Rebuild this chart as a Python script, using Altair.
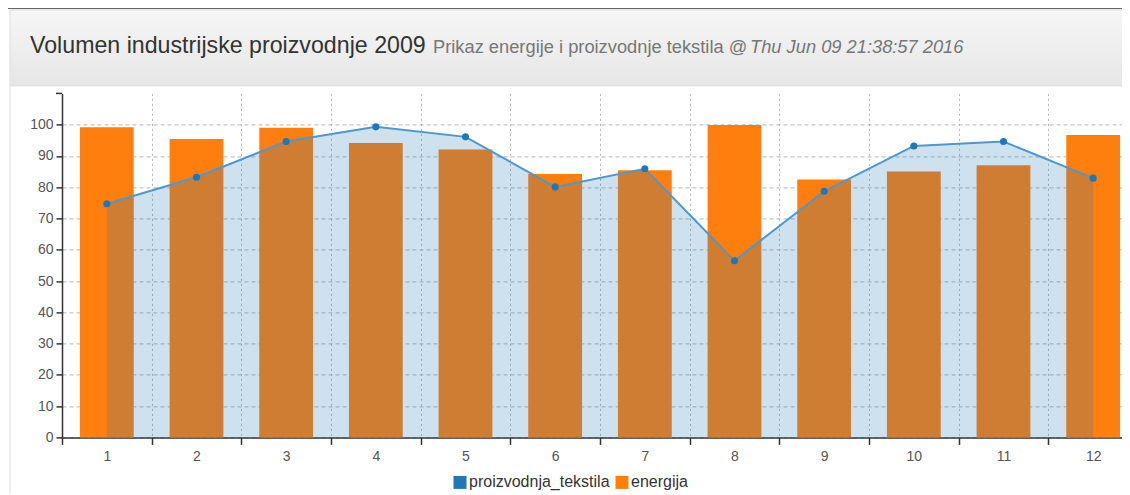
import altair as alt
import pandas as pd

mjeseci = [str(i) for i in range(1, 13)]
energija = [99.2, 95.4, 99.0, 94.1, 92.1, 84.2, 85.4, 99.9, 82.5, 85.0, 87.0, 96.7]
proizvodnja_tekstila = [74.7, 83.2, 94.6, 99.3, 96.1, 80.1, 85.9, 56.5, 78.7, 93.2, 94.6, 82.9]
serije = ["proizvodnja_tekstila", "energija"]
boje = ["#1f77b4", "#ff7f0e"]
y_ticks = list(range(0, 101, 10))

naslov = "Volumen industrijske proizvodnje 2009"
podnaslov = "Prikaz energije i proizvodnje tekstila @"
datum = "Thu Jun 09 21:38:57 2016"

FONT = "Liberation Sans"

df = pd.DataFrame({
    "mjesec": mjeseci,
    "energija": energija,
    "tekstil": proizvodnja_tekstila,
    "serija": ["energija"] * len(mjeseci),
})

x_axis = alt.Axis(tickBand="extent", grid=True, gridDash=[2, 3], gridColor="#b5b5b5",
                  labelAngle=0, tickSize=7, labelPadding=5, title=None)
x_scale = alt.Scale(range=[0, 1076], paddingInner=0, paddingOuter=0)
y_scale = alt.Scale(domain=[0, 110], nice=False)
y_axis = alt.Axis(values=y_ticks, grid=True, gridDash=[4, 3], gridColor="#b5b5b5",
                  tickSize=6, labelPadding=3, labelOverlap=False, title=None)


def xe():
    return alt.X("mjesec:O", sort=mjeseci, scale=x_scale, axis=x_axis)


def ye(field):
    return alt.Y(field, scale=y_scale, axis=y_axis)


base = alt.Chart(df)

bars = base.mark_bar(width=alt.RelativeBandSize(0.6)).encode(
    x=xe(),
    y=ye("energija:Q"),
    color=alt.Color(
        "serija:N",
        scale=alt.Scale(domain=serije, range=boje),
        legend=alt.Legend(orient="none", legendX=390, legendY=381, direction="horizontal",
                          title=None, symbolType="square", symbolSize=169,
                          symbolStrokeWidth=0, labelFontSize=16, labelColor="#333",
                          labelFont=FONT, columnPadding=4, labelOffset=1),
    ),
)

area = base.mark_area(color="#1f77b4", opacity=0.22).encode(x=xe(), y=ye("tekstil:Q"))
line = base.mark_line(color="#4f97cd", strokeWidth=2).encode(x=xe(), y=ye("tekstil:Q"))
points = base.mark_circle(size=50, color="#1f77b4", opacity=1).encode(x=xe(), y=ye("tekstil:Q"))

one = alt.Chart(pd.DataFrame({"k": [0]}))

header = one.mark_rect(
    color=alt.LinearGradient(gradient="linear", x1=0, x2=0, y1=0, y2=1,
                             stops=[alt.GradientStop(color="#f6f6f6", offset=0),
                                    alt.GradientStop(color="#e6e6e6", offset=1)]),
    stroke="#dddddd", strokeWidth=1,
).encode(x=alt.value(-52), x2=alt.value(1070), y=alt.value(-83.5), y2=alt.value(-7.5))

top_line = one.mark_rule(color="#666666", strokeWidth=1).encode(
    x=alt.value(-54), x2=alt.value(1070), y=alt.value(-84.9))
left_border = one.mark_rule(color="#dddddd", strokeWidth=1).encode(
    x=alt.value(-52), y=alt.value(-7.5), y2=alt.value(400))
outer_tick = one.mark_rule(color="#333333", strokeWidth=1.5).encode(
    x=alt.value(-6), x2=alt.value(0), y=alt.value(0))

t1 = one.mark_text(align="left", baseline="alphabetic", fontSize=23.2, font=FONT,
                   color="#333333").encode(x=alt.value(-32), y=alt.value(-40.5),
                                           text=alt.value(naslov))
t2 = one.mark_text(align="left", baseline="alphabetic", fontSize=18.3, font=FONT,
                   color="#777777").encode(x=alt.value(371), y=alt.value(-40.5),
                                           text=alt.value(podnaslov))
t3 = one.mark_text(align="left", baseline="alphabetic", fontSize=18.3, font=FONT,
                   fontStyle="italic", color="#777777").encode(
    x=alt.value(688), y=alt.value(-40.5), text=alt.value(datum))

chart = alt.layer(
    header, top_line, left_border, bars, area, line, points, outer_tick, t1, t2, t3
).properties(
    width=1060, height=344,
    autosize=alt.AutoSizeParams(type="none"),
    padding={"left": 54, "top": 85.4, "right": 0, "bottom": 56.6},
).configure_view(
    stroke=None
).configure_axis(
    labelFontSize=14, labelFont=FONT, labelColor="#555555",
    domainColor="#333333", tickColor="#333333", domainWidth=1.5, tickWidth=1.5,
)

chart.save("out.html", embed_options={"renderer": "svg", "actions": False})
